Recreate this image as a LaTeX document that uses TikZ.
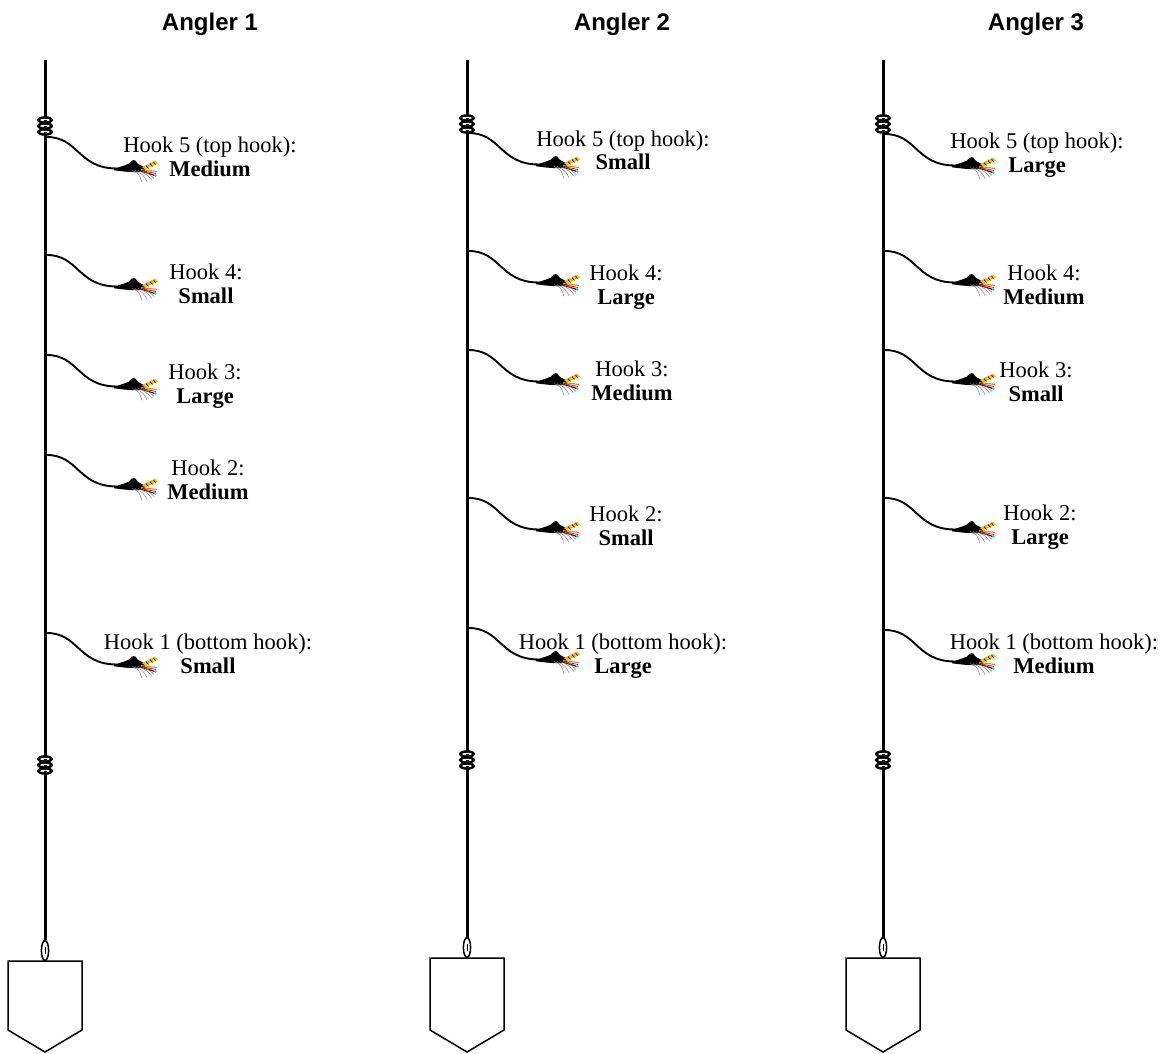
\documentclass[tikz,border=0pt]{standalone}
\usepackage{fontspec}
\setmainfont{Liberation Serif}
\newfontfamily\titlefont{Liberation Sans}
\definecolor{flyyellow}{HTML}{F2B81C}
\definecolor{flyorange}{HTML}{E8771E}
\definecolor{flyred}{HTML}{D02818}
\definecolor{flycyan}{HTML}{3CC8E0}
\begin{document}
\begin{tikzpicture}[x=1pt,y=-1pt,
  mainline/.style={line width=3pt,black},
  leader/.style={line width=1.9pt,black},
  sinker/.style={line width=1.5pt,black,fill=white},
  title/.style={font=\titlefont\bfseries\fontsize{24}{28}\selectfont,anchor=base,inner sep=0pt},
  % multi-line nodes: the base anchor sits on the last line
  lbl/.style={align=center,font=\fontsize{22.5}{24}\selectfont,anchor=base,inner sep=0pt},
  coil/.pic={
    \foreach \dy in {-6,0,6}{
      \fill[black] (0,\dy) ellipse [x radius=8,y radius=3.8];
      \fill[white] (0,\dy) ellipse [x radius=5,y radius=1.2];
      \draw[black,line width=0.8pt] (-1.5,\dy) -- (1.5,\dy);
    }
  },
  fly/.pic={
    % dark body with the raised hackle
    \fill[black] (-3,0.2) .. controls (4,-2) and (8,-3) .. (12,-5)
      .. controls (15,-10) and (19,-9) .. (20,-5.5)
      .. controls (23,-3) and (26,-2) .. (28,-1) -- (28,2.5)
      .. controls (20,4.5) and (10,3.5) .. (-3,1.8) -- cycle;
    % barred wing
    \fill[flyyellow] (25,-1.5) -- (38,-8) -- (41,-5) -- (28,1) -- cycle;
    \draw[black,line width=0.6pt] (29,-3) -- (31.5,0) (33,-5) -- (35.5,-2) (36.5,-6.5) -- (38.5,-4);
    % tail fibres
    \draw[flyorange,line width=1pt] (24,1) -- (40,3);
    \draw[flyred,line width=0.8pt] (24,2) -- (39,5);
    \draw[black,line width=1.1pt] (22,2) -- (38,7);
    \fill[flycyan] (38.5,7) circle (1.4);
    \draw[gray,line width=0.45pt]
      (15,2) .. controls (22,5) .. (25,14)
      (18,2) .. controls (26,6) .. (30,13)
      (21,2) .. controls (30,6) .. (35,12)
      (24,2) .. controls (32,5) .. (37,10);
  }
]
\useasboundingbox (0,0) rectangle (1165,1054);

% ---------- titles ----------
\node[title] (t1) at (210,31) {Angler 1};
\node[title] (t2) at (622,31) {Angler 2};
\node[title] (t3) at (1036,31) {Angler 3};

% ---------- main lines, swivels and sinkers ----------
\foreach \n/\x/\ct/\cb/\bt in {1/45/126/765/961, 2/467/124/760/958, 3/883/124/760/958}{
  \coordinate (top\n) at (\x,60);
  \coordinate (eye\n) at (\x,940);
  \draw[mainline] (top\n) -- (eye\n);
  \pic at (\x,\ct) {coil};
  \pic at (\x,\cb) {coil};
  % sinker eye
  \draw[black,line width=1.5pt,fill=white] (\x,{\bt-10.5}) ellipse [x radius=3.6,y radius=10];
  \draw[black,line width=0.8pt] (\x,{\bt-14}) -- (\x,{\bt-7});
  % sinker body
  \draw[sinker] ({\x-37},\bt) -- ({\x+37},\bt) -- ({\x+37},1030)
    -- (\x,1052) -- ({\x-37},1030) -- cycle;
}

% ---------- droppers and flies ----------
\foreach \n/\x/\ya/\yb/\yc/\yd/\ye in {
    1/45/137/255/355/455/633,
    2/467/133/251/350/498/628,
    3/883/134/251/350/498/630}{
  \foreach \h/\y in {5/\ya,4/\yb,3/\yc,2/\yd,1/\ye}{
    \coordinate (k\n\h) at (\x,\y);
    \coordinate (f\n\h) at ({\x+72},{\y+31.5});
    \draw[leader] (k\n\h) .. controls +(34,-1) and +(-40,0) .. (f\n\h);
    \pic at (f\n\h) {fly};
  }
}

% ---------- hook labels: angler 1 ----------
\node[lbl] (a15) at (210,176) {Hook 5 (top hook):\\\textbf{Medium}};
\node[lbl] (a14) at (206,303) {Hook 4:\\\textbf{Small}};
\node[lbl] (a13) at (205,403) {Hook 3:\\\textbf{Large}};
\node[lbl] (a12) at (208,499) {Hook 2:\\\textbf{Medium}};
\node[lbl] (a11) at (208,673) {Hook 1 (bottom hook):\\\textbf{Small}};

% ---------- hook labels: angler 2 ----------
\node[lbl] (a25) at (623,170) {Hook 5 (top hook):\\\textbf{Small}};
\node[lbl] (a24) at (626,304) {Hook 4:\\\textbf{Large}};
\node[lbl] (a23) at (632,400) {Hook 3:\\\textbf{Medium}};
\node[lbl] (a22) at (626,545) {Hook 2:\\\textbf{Small}};
\node[lbl] (a21) at (623,673) {Hook 1 (bottom hook):\\\textbf{Large}};

% ---------- hook labels: angler 3 ----------
\node[lbl] (a35) at (1037,172) {Hook 5 (top hook):\\\textbf{Large}};
\node[lbl] (a34) at (1044,304) {Hook 4:\\\textbf{Medium}};
\node[lbl] (a33) at (1036,401) {Hook 3:\\\textbf{Small}};
\node[lbl] (a32) at (1040,544) {Hook 2:\\\textbf{Large}};
\node[lbl] (a31) at (1054,673) {Hook 1 (bottom hook):\\\textbf{Medium}};
\end{tikzpicture}
\end{document}
